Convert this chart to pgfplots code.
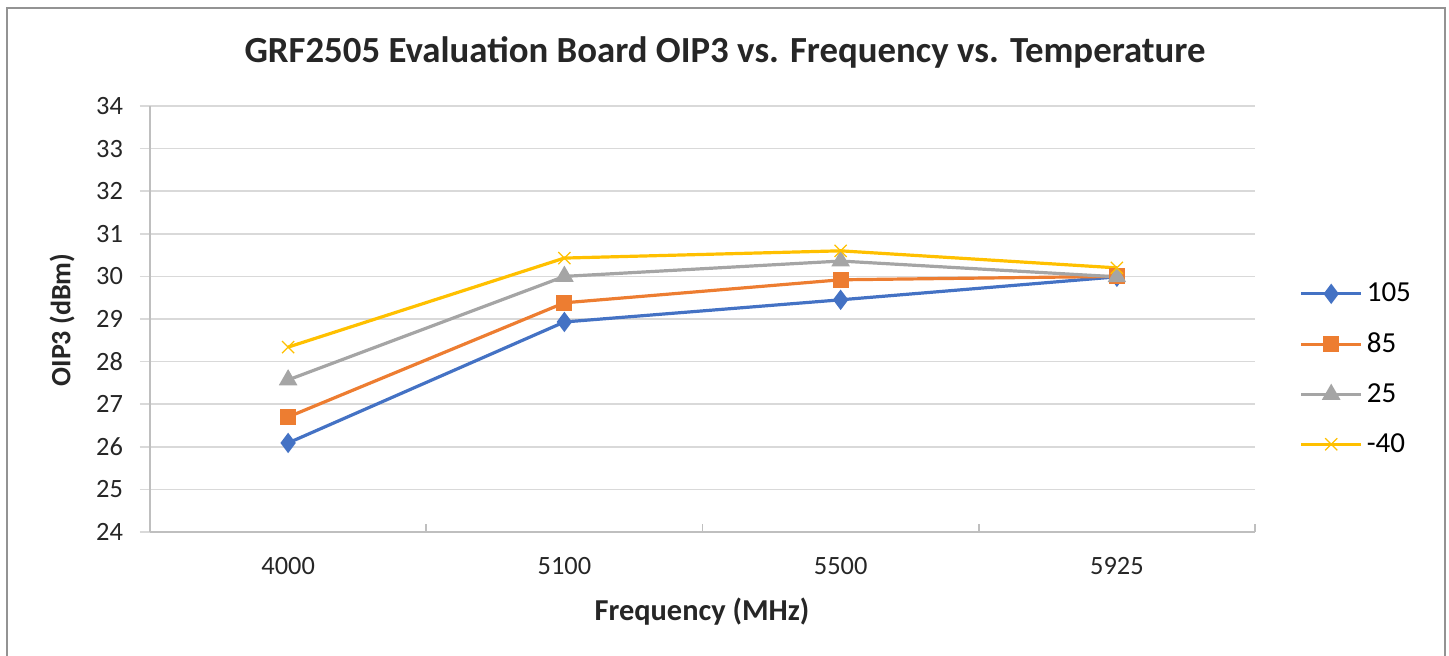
\documentclass[border=0pt]{standalone}
\usepackage{pgfplots}
\pgfplotsset{compat=1.18}
\usepackage{fontspec}
\setmainfont{Carlito}
\definecolor{c105}{HTML}{4472C4}
\definecolor{c85}{HTML}{ED7D31}
\definecolor{c25}{HTML}{A5A5A5}
\definecolor{c40}{HTML}{FFC000}
\definecolor{gridc}{HTML}{D9D9D9}
\definecolor{axc}{HTML}{BFBFBF}
\begin{document}
\begin{tikzpicture}
\useasboundingbox (0,0) rectangle (724.5pt,328pt);
\draw[color=gray!85,line width=1.2pt] (3.6pt,-2pt) -- (3.6pt,324pt) -- (722.6pt,324pt) -- (722.6pt,-2pt);
\begin{axis}[
  at={(75pt,62pt)}, anchor=south west,
  scale only axis, width=552.5pt, height=213pt,
  xmin=-0.5, xmax=3.5, ymin=24, ymax=34,
  xtick={0,1,2,3}, xticklabels={4000,5100,5500,5925},
  minor xtick={-0.5,0.5,1.5,2.5,3.5},
  ytick={24,25,...,34},
  axis x line*=bottom, axis y line*=left,
  axis line style={color=axc, line width=0.8pt, -},
  ymajorgrids, grid style={color=gridc, line width=0.8pt},
  x tick style={draw=none},
  minor x tick style={draw=axc, line width=0.8pt},
  minor tick length=4pt,
  y tick style={draw=gridc, line width=0.8pt},
  major tick length=5pt,
  tick align=outside,
  xtick align=inside,
  /pgf/number format/assume math mode=true,
  ticklabel style={font=\fontsize{13.2}{15}\selectfont, text=black!85},
  xticklabel style={yshift=-9pt},
  yticklabel style={xshift=-5pt},
  legend style={at={(1.04,0.595)}, anchor=north west, draw=none, fill=none,
    font=\fontsize{14.5}{16}\selectfont, row sep=10pt, inner sep=0pt},
  legend cell align=left,
  legend image code/.code={%
    \draw[#1, mark=none] (0pt,0pt) -- (30pt,0pt);
    \draw[#1, only marks] plot coordinates {(15pt,0pt)};},
  every axis plot/.append style={line width=1.6pt},
]
\addplot[color=c105, mark=diamond*, mark size=3.8pt] coordinates {(0,26.09) (1,28.93) (2,29.45) (3,29.99)};
\addlegendentry{105}
\addplot[color=c85, mark=square*, mark size=3.2pt] coordinates {(0,26.70) (1,29.38) (2,29.92) (3,30.00)};
\addlegendentry{85}
\addplot[color=c25, mark=triangle*, mark size=3.8pt] coordinates {(0,27.57) (1,30.00) (2,30.36) (3,29.99)};
\addlegendentry{25}
\addplot[color=c40, mark=x, mark size=4.3pt, mark options={line width=0.6pt}] coordinates {(0,28.34) (1,30.43) (2,30.60) (3,30.20)};
\addlegendentry{-40}
\end{axis}
\node[font=\fontsize{18.4}{21}\selectfont\bfseries, text=black!85] at (362.5pt,302pt) {GRF2505 Evaluation Board OIP3 vs. Frequency vs. Temperature};
\node[font=\fontsize{15.2}{17}\selectfont\bfseries, text=black!85] at (351pt,22pt) {Frequency (MHz)};
\node[font=\fontsize{14}{16}\selectfont\bfseries, text=black!85, rotate=90] at (31pt,168pt) {OIP3 (dBm)};
\end{tikzpicture}
\end{document}
